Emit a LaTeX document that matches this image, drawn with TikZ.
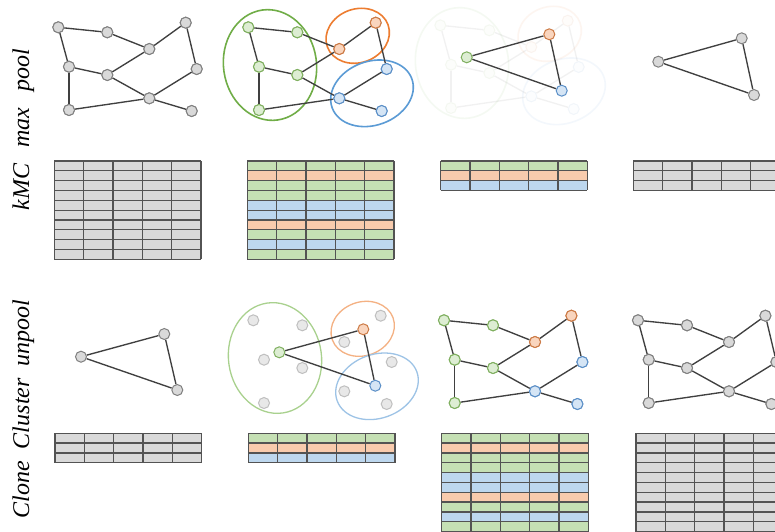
\documentclass[tikz,border=0pt]{standalone}
\usepackage{fontspec}
\setmainfont{Liberation Serif}
\definecolor{gfill}{HTML}{D9D9D9}
\definecolor{gline}{HTML}{808080}
\definecolor{grfill}{HTML}{DDEDD3}
\definecolor{grline}{HTML}{7FAF5F}
\definecolor{orfill}{HTML}{F9D5BE}
\definecolor{orline}{HTML}{CC7A45}
\definecolor{blfill}{HTML}{D5E5F5}
\definecolor{blline}{HTML}{5B8FC7}
\definecolor{edgec}{HTML}{404040}
\definecolor{rowg}{HTML}{C5E0B4}
\definecolor{rowo}{HTML}{F8CBAD}
\definecolor{rowb}{HTML}{BDD7EE}
\definecolor{rowgr}{HTML}{D9D9D9}
\definecolor{ellg}{HTML}{70AD47}
\definecolor{ello}{HTML}{ED7D31}
\definecolor{ellb}{HTML}{5B9BD5}
\definecolor{lellg}{HTML}{A9D18E}
\definecolor{lello}{HTML}{F4B183}
\definecolor{lellb}{HTML}{9DC3E6}
\tikzset{
  vtx/.style={circle,minimum size=11pt,inner sep=0pt,line width=1pt},
  gnode/.style={vtx,fill=gfill,draw=gline},
  grnode/.style={vtx,fill=grfill,draw=grline},
  ornode/.style={vtx,fill=orfill,draw=orline},
  blnode/.style={vtx,fill=blfill,draw=blline},
  ghnode/.style={vtx,fill=gfill!60,draw=gline!50},
  edge/.style={draw=edgec,line width=1.35pt},
  tgrid/.style={draw=edgec!90,line width=1.3pt},
  lab/.style={font=\fontsize{24}{28}\selectfont\itshape,rotate=90,anchor=base,inner sep=0pt},
}
\newcommand\wgap{\hspace{12pt}}
\newcommand\wgapb{\hspace{16pt}}
% graph nodes: #1 prefix, #2 dx, #3 dy, #4 green style, #5 orange style, #6 blue style
\newcommand\kgnodes[6]{%
  \begin{scope}[shift={(#2,#3)}]
    \node[#4] (#1A) at (58.3,27.3) {};
    \node[#4] (#1B) at (107.3,32.3) {};
    \node[#5] (#1C) at (185.7,22.7) {};
    \node[#5] (#1D) at (149.3,49) {};
    \node[#4] (#1E) at (69,66.7) {};
    \node[#4] (#1F) at (107.3,75) {};
    \node[#6] (#1G) at (196.7,69) {};
    \node[#6] (#1H) at (149.3,98.3) {};
    \node[#4] (#1I) at (69,110) {};
    \node[#6] (#1J) at (191.7,111) {};
  \end{scope}}
\newcommand\kgedges[1]{%
  \draw[edge] (#1A) -- (#1B); \draw[edge] (#1B) -- (#1D);
  \draw[edge] (#1D) -- (#1C); \draw[edge] (#1C) -- (#1G);
  \draw[edge] (#1A) -- (#1E); \draw[edge] (#1E) -- (#1F);
  \draw[edge] (#1F) -- (#1D); \draw[edge] (#1E) -- (#1I);
  \draw[edge] (#1I) -- (#1H); \draw[edge] (#1F) -- (#1H);
  \draw[edge] (#1H) -- (#1G); \draw[edge] (#1H) -- (#1J);}
% cluster ellipses: #1 dx, #2 dy, #3 green, #4 orange, #5 blue, #6 width
\newcommand\kclusters[6]{%
  \begin{scope}[shift={(#1,#2)}]
    \draw[#3,line width=#6,rotate around={8:(80,65)}] (80,65) ellipse [x radius=46.5,y radius=55.5];
    \draw[#4,line width=#6,rotate around={20:(167.7,35.8)}] (167.7,35.8) ellipse [x radius=32.3,y radius=26.8];
    \draw[#5,line width=#6,rotate around={20:(182,93.3)}] (182,93.3) ellipse [x radius=42.4,y radius=31.9];
  \end{scope}}
% table: #1 x, #2 y, #3 rows, #4 colour list
\newcommand\ktable[4]{%
  \begin{scope}[shift={(#1,#2)}]
    \foreach \c [count=\i from 0] in {#4} {\fill[\c] (0,\i*9.83) rectangle (146.7,\i*9.83+9.83);}
    \foreach \k in {0,...,#3} {\draw[tgrid] (0,\k*9.83) -- (146.7,\k*9.83);}
    \foreach \k in {0,...,5} {\draw[tgrid] (\k*29.34,0) -- (\k*29.34,#3*9.83);}
  \end{scope}}
\begin{document}
\begin{tikzpicture}[x=1pt,y=-1pt]
\clip (0,0) rectangle (775,531);
\fill[white] (0,0) rectangle (775,531);
% labels
\node[lab] (l1) at (29,129.5) {kMC\wgapb max\wgapb pool};
\node[lab] (l2) at (29,409) {Clone\wgap Cluster\wgap unpool};
% ---- top row ----
% panel 1
\kgnodes{a}{0}{0}{gnode}{gnode}{gnode}
\kgedges{a}
\kgnodes{a}{0}{0}{gnode}{gnode}{gnode}
% panel 2
\kclusters{190}{0}{ellg}{ello}{ellb}{1.6pt}
\kgnodes{b}{190}{0}{grnode}{ornode}{blnode}
\kgedges{b}
\kgnodes{b}{190}{0}{grnode}{ornode}{blnode}
% panel 3 (ghost)
\begin{scope}[opacity=0.07]
  \kclusters{382}{-2}{ellg}{ello}{ellb}{1.6pt}
  \kgnodes{c}{382}{-2}{grnode}{ornode}{blnode}
  \kgedges{c}
\end{scope}
\node[grnode] (t3g) at (466.7,57.3) {};
\node[ornode] (t3o) at (549.3,34.3) {};
\node[blnode] (t3b) at (561.7,90.7) {};
\draw[edge] (t3g) -- (t3o) -- (t3b) -- (t3g);
% panel 4
\node[gnode] (t4g) at (658.3,61.7) {};
\node[gnode] (t4o) at (741.7,38.3) {};
\node[gnode] (t4b) at (754,95) {};
\draw[edge] (t4g) -- (t4o) -- (t4b) -- (t4g);
% top tables
\ktable{54.3}{161}{10}{rowgr,rowgr,rowgr,rowgr,rowgr,rowgr,rowgr,rowgr,rowgr,rowgr}
\ktable{247.3}{161}{10}{rowg,rowo,rowg,rowg,rowb,rowb,rowo,rowg,rowb,rowg}
\ktable{440.7}{161}{3}{rowg,rowo,rowb}
\ktable{633.3}{161}{3}{rowgr,rowgr,rowgr}
% ---- bottom row ----
% panel 1
\node[gnode] (u1g) at (81,356.7) {};
\node[gnode] (u1o) at (164.3,334) {};
\node[gnode] (u1b) at (177.3,390) {};
\draw[edge] (u1g) -- (u1o) -- (u1b) -- (u1g);
% panel 2
\kclusters{195}{293}{lellg}{lello}{lellb}{1.3pt}
\kgnodes{d}{195}{293}{ghnode}{ghnode}{ghnode}
\node[grnode] (u2g) at (279.3,352.3) {};
\node[ornode] (u2o) at (363.3,329.3) {};
\node[blnode] (u2b) at (375.3,385.7) {};
\draw[edge] (u2g) -- (u2o) -- (u2b) -- (u2g);
% panel 3
\kgnodes{e}{385.7}{293}{grnode}{ornode}{blnode}
\kgedges{e}
\kgnodes{e}{385.7}{293}{grnode}{ornode}{blnode}
% panel 4
\kgnodes{f}{579.7}{293}{gnode}{gnode}{gnode}
\kgedges{f}
\kgnodes{f}{579.7}{293}{gnode}{gnode}{gnode}
% bottom tables
\ktable{55}{433.3}{3}{rowgr,rowgr,rowgr}
\ktable{248.3}{433.3}{3}{rowg,rowo,rowb}
\ktable{441.7}{433.3}{10}{rowg,rowo,rowg,rowg,rowb,rowb,rowo,rowg,rowb,rowg}
\ktable{636}{433.3}{10}{rowgr,rowgr,rowgr,rowgr,rowgr,rowgr,rowgr,rowgr,rowgr,rowgr}
\end{tikzpicture}
\end{document}
